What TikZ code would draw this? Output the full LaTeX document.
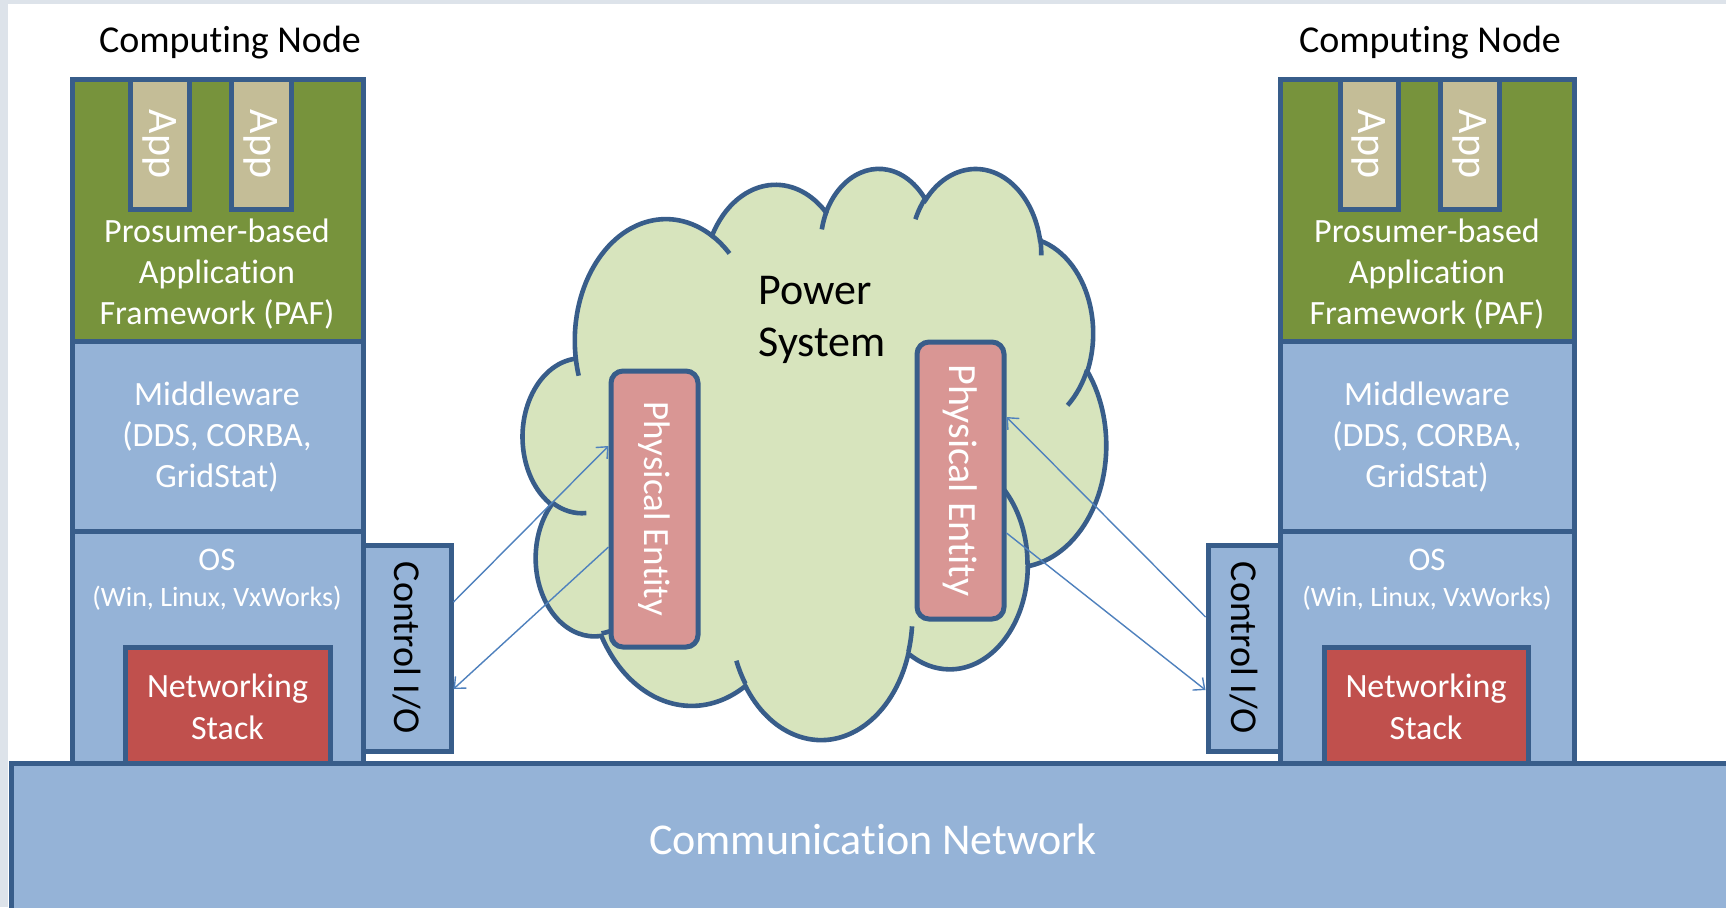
\documentclass[tikz,border=0pt]{standalone}
\usepackage{fontspec}
\setmainfont{Carlito}[Ligatures=NoCommon]
\usetikzlibrary{fit,arrows.meta,calc}

\definecolor{edge}{HTML}{385D8A}
\definecolor{paf}{HTML}{77933C}
\definecolor{apptan}{HTML}{C4BD97}
\definecolor{layerblue}{HTML}{95B3D7}
\definecolor{stackred}{HTML}{C0504D}
\definecolor{entity}{HTML}{D99694}
\definecolor{cloudfill}{HTML}{D7E4BD}
\definecolor{linkblue}{HTML}{4F81BD}
\definecolor{margin}{HTML}{DDE3EA}

% elliptical arc given by its visual start angle and sweep (y pointing down)
\newcommand\pptarc[4]{arc[x radius=#1, y radius=#2,
  start angle={atan2(#1*sin(#3),#2*cos(#3))},
  delta angle={mod(atan2(#1*sin(#3+#4),#2*cos(#3+#4))-atan2(#1*sin(#3),#2*cos(#3))+720,360)}]}

\newcommand\fs[2]{\fontsize{#1}{#2}\selectfont}

\begin{document}
\begin{tikzpicture}[x=0.5pt,y=-0.5pt,
  layer/.style={draw=edge, line width=2.5pt, inner sep=0pt, rectangle},
  entitybox/.style={layer, fill=entity, rounded corners=6pt},
  wtext/.style={text=white, align=center, inner sep=0pt},
  btext/.style={text=black, align=center, inner sep=0pt},
  link/.style={draw=linkblue, line width=0.7pt, -{Straight Barb[length=4.5pt,width=8pt]}},
  ]
\useasboundingbox (0,0) rectangle (1726,907);
\clip (0,0) rectangle (1726,907);
\fill[white] (0,0) rectangle (1726,907);
\fill[margin] (0,0) rectangle (8,907);
\fill[margin] (8,0) rectangle (1726,3.5);

% ---------- left computing node ----------
\node[layer, fill=paf, fit={(72,79)(363,341)}] (pafL) {};
\node[layer, fill=apptan, fit={(130,79)(189,209)}] (appL1) {};
\node[layer, fill=apptan, fit={(231,79)(291,209)}] (appL2) {};
\node[layer, fill=layerblue, fit={(72,341)(363,531)}] (mwL) {};
\node[layer, fill=layerblue, fit={(72,531)(363,763)}] (osL) {};
\node[layer, fill=stackred, fit={(125,647)(330,763)}] (netL) {};
\node[layer, fill=layerblue, fit={(363,545)(451,751)}] (ctrlL) {};

% ---------- right computing node ----------
\node[layer, fill=paf, fit={(1280,79)(1574,341)}] (pafR) {};
\node[layer, fill=apptan, fit={(1340,79)(1398,209)}] (appR1) {};
\node[layer, fill=apptan, fit={(1440,79)(1499,209)}] (appR2) {};
\node[layer, fill=layerblue, fit={(1280,341)(1574,531)}] (mwR) {};
\node[layer, fill=layerblue, fit={(1280,531)(1574,763)}] (osR) {};
\node[layer, fill=stackred, fit={(1324,647)(1528,763)}] (netR) {};
\node[layer, fill=layerblue, fit={(1208,545)(1280,751)}] (ctrlR) {};

% ---------- communication network ----------
\node[layer, fill=layerblue, fit={(11,763)(1760,960)}] (comm) {};

% ---------- power system cloud ----------
\begin{scope}[shift={(523,167)}, x=6.748pt, y=-6.609pt, line width=2.3pt]
  \draw[draw=edge, fill=cloudfill] (3.900,14.370)
    \pptarc{6.753}{9.190}{-190.4875}{123.7805}
    \pptarc{5.333}{7.267}{-144.1024}{89.9452}
    \pptarc{4.365}{5.945}{-145.8079}{99.7230}
    \pptarc{4.857}{6.595}{-130.9861}{117.2417}
    \pptarc{5.333}{7.273}{-78.7089}{109.0269}
    \pptarc{6.775}{9.220}{-46.2673}{130.2690}
    \pptarc{5.785}{7.867}{0.6250}{114.0333}
    \pptarc{6.752}{9.215}{22.4516}{115.1726}
    \pptarc{7.720}{10.543}{66.2426}{75.7110}
    \pptarc{4.360}{5.918}{-274.9421}{146.7356}
    \pptarc{4.345}{5.945}{-246.8285}{152.5189}
    -- cycle;
  \draw[draw=edge]
    (4.693,26.177) \pptarc{4.345}{5.945}{86.7420}{26.4295}
    (6.928,34.899) \pptarc{4.360}{5.918}{73.6105}{11.4475}
    (16.478,39.090) \pptarc{6.752}{9.215}{137.6242}{14.0811}
    (28.827,34.751) \pptarc{6.752}{9.215}{6.4533}{15.9984}
    (34.129,22.954) \pptarc{5.785}{7.867}{-70.2924}{70.9174}
    (41.798,15.354) \pptarc{5.333}{7.273}{30.3180}{27.7515}
    (38.324,5.426) \pptarc{4.857}{6.595}{-13.7443}{14.8589}
    (29.078,3.952) \pptarc{4.857}{6.595}{-149.1815}{18.1954}
    (22.141,4.720) \pptarc{4.365}{5.945}{-163.4943}{17.6864}
    (14.000,5.192) \pptarc{6.753}{9.190}{-66.7070}{12.3194}
    (4.127,15.789) \pptarc{6.753}{9.190}{157.6544}{11.8582};
\end{scope}

\node[entitybox, fit={(611,371)(698,647)}] (peL) {};
\node[entitybox, fit={(917,342)(1004,619)}] (peR) {};

% ---------- texts ----------
\node[btext, font=\fs{19}{23}] at (230,43) {Computing Node};
\node[btext, font=\fs{19}{23}] at (1430,43) {Computing Node};

\foreach \a in {appL1,appL2,appR1,appR2}
  \node[wtext, rotate=-90, font=\fs{21}{25}] at (\a) {App};

\node[wtext, font=\fs{17}{20.5}] at (217,274) {Prosumer-based\\Application\\Framework (PAF)};
\node[wtext, font=\fs{17}{20.5}] at (1427,274) {Prosumer-based\\Application\\Framework (PAF)};
\node[wtext, font=\fs{17}{20.5}] at (217,437) {Middleware\\(DDS, CORBA,\\GridStat)};
\node[wtext, font=\fs{17}{20.5}] at (1427,437) {Middleware\\(DDS, CORBA,\\GridStat)};
\node[wtext, font=\fs{16.5}{20}] at (217,560) {OS};
\node[wtext, font=\fs{16.5}{20}] at (1427,560) {OS};
\node[wtext, font=\fs{14}{17}] at (217,598) {(Win, Linux, VxWorks)};
\node[wtext, font=\fs{14}{17}] at (1427,598) {(Win, Linux, VxWorks)};
\node[wtext, font=\fs{17}{21}] at ($(netL.center)+(0,2)$) {Networking\\Stack};
\node[wtext, font=\fs{17}{21}] at ($(netR.center)+(0,2)$) {Networking\\Stack};
\node[btext, rotate=-90, font=\fs{19}{23}] at (ctrlL) {Control I/O};
\node[btext, rotate=-90, font=\fs{19}{23}] at (ctrlR) {Control I/O};
\node[wtext, rotate=-90, font=\fs{18.5}{22}] at (peL) {Physical Entity};
\node[wtext, rotate=-90, font=\fs{20}{24}] at (peR) {Physical Entity};
\node[btext, align=left, anchor=west, font=\fs{22}{26}] at (758,320) {Power\\System};
\node[wtext, font=\fs{22}{26}] at (873,839) {Communication Network};

% ---------- control links ----------
\draw[link] (ctrlL.east |- 0,602) -- (peL.west |- 0,446);
\draw[link] (peL.west |- 0,547) -- (ctrlL.east |- 0,689);
\draw[link] (ctrlR.west |- 0,617) -- (peR.east |- 0,417);
\draw[link] (peR.east |- 0,533) -- (ctrlR.west |- 0,690);
\end{tikzpicture}
\end{document}
